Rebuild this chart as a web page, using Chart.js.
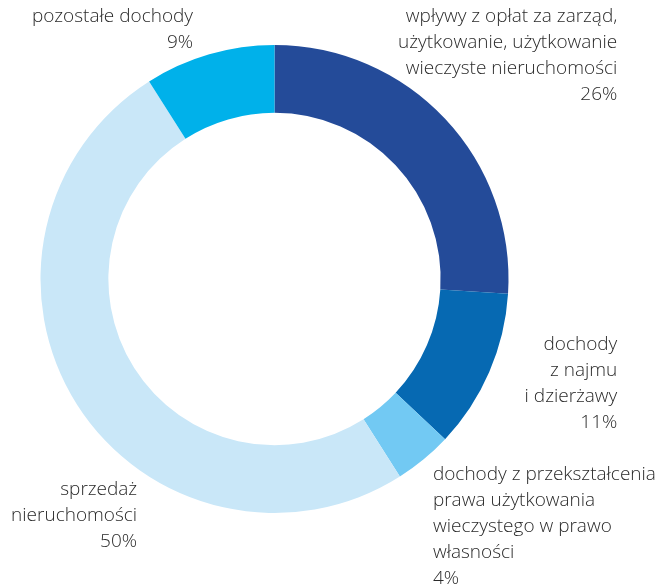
<!DOCTYPE html>
<html>
<head>
<meta charset="utf-8">
<script src="https://cdn.jsdelivr.net/npm/chart.js@4/dist/chart.umd.min.js"></script>
<style>
    html, body { margin: 0; padding: 0; background: #fff; }
    #wrap { width: 657px; height: 586px; position: relative; }
</style>
</head>
<body>
<div id="wrap"><canvas id="income_chart"></canvas></div>
<script>
'use strict';

// Income structure, shares in percent (clockwise from the top)
var categories = [
    'wpływy z opłat za zarząd, użytkowanie, użytkowanie wieczyste nieruchomości',
    'dochody z najmu i dzierżawy',
    'dochody z przekształcenia prawa użytkowania wieczystego w prawo własności',
    'sprzedaż nieruchomości',
    'pozostałe dochody'
];
var shares = [26, 11, 4, 50, 9];
var sliceColors = ['#244b99', '#0669b2', '#72c9f3', '#c9e7f8', '#00b1ea'];

// Wrapped label lines for each slice (the share is added as the last line)
var labelLines = [
    ['wpływy z opłat za zarząd,', 'użytkowanie, użytkowanie', 'wieczyste nieruchomości'],
    ['dochody', 'z najmu', 'i dzierżawy'],
    ['dochody z przekształcenia', 'prawa użytkowania', 'wieczystego w prawo', 'własności'],
    ['sprzedaż', 'nieruchomości'],
    ['pozostałe dochody']
];

// Where each label block sits relative to the chart centre, in units of the outer radius
var labelAnchors = [
    { dx: 1.465, dy: -1.12, align: 'right' },
    { dx: 1.465, dy: 0.282, align: 'right' },
    { dx: 0.677, dy: 0.838, align: 'left' },
    { dx: -0.587, dy: 0.902, align: 'right' },
    { dx: -0.348, dy: -1.12, align: 'right' }
];

var sliceLabels = {
    id: 'sliceLabels',
    afterDraw: function (chart) {
        var ctx = chart.ctx;
        var arc = chart.getDatasetMeta(0).data[0];
        var cx = arc.x, cy = arc.y, r = arc.outerRadius;
        var lineHeight = 25.8;
        ctx.save();
        ctx.fillStyle = '#2a2a2a';
        ctx.font = '300 19px "Open Sans", sans-serif';
        ctx.textBaseline = 'middle';
        labelLines.forEach(function (lines, i) {
            var a = labelAnchors[i];
            var x = cx + a.dx * r;
            var y = cy + a.dy * r;
            var all = lines.concat([shares[i] + '%']);
            ctx.textAlign = a.align;
            all.forEach(function (line, k) {
                ctx.fillText(line, x, y + k * lineHeight);
            });
        });
        ctx.restore();
    }
};

var ctx = document.getElementById('income_chart').getContext('2d');
new Chart(ctx, {
    type: 'doughnut',
    data: {
        labels: categories,
        datasets: [{
            data: shares,
            backgroundColor: sliceColors,
            borderWidth: 0
        }]
    },
    options: {
        responsive: true,
        maintainAspectRatio: false,
        animation: false,
        cutout: '71%',
        layout: {
            padding: { left: 40.5, top: 45, right: 148.5, bottom: 73 }
        },
        plugins: {
            legend: { display: false },
            tooltip: { enabled: false }
        }
    },
    plugins: [sliceLabels]
});
</script>
</body>
</html>
